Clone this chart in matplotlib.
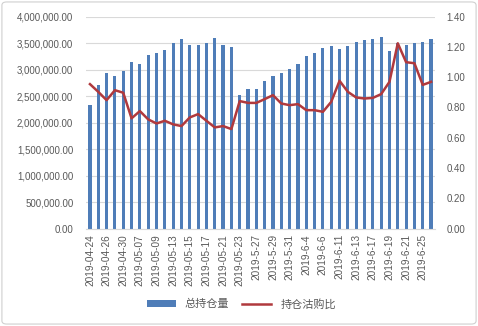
import matplotlib.pyplot as plt
import matplotlib.ticker as mticker
from matplotlib.patches import FancyBboxPatch
import numpy as np

plt.rcParams['font.family'] = ['Liberation Sans', 'Noto Sans CJK SC', 'DejaVu Sans']

# trading days shown on the category axis
dates = ['2019-04-24', '2019-04-25', '2019-04-26', '2019-04-29', '2019-04-30',
         '2019-05-06', '2019-05-07', '2019-05-08', '2019-05-09', '2019-05-10',
         '2019-05-13', '2019-05-14', '2019-05-15', '2019-05-16', '2019-05-17',
         '2019-05-20', '2019-05-21', '2019-05-22', '2019-05-23', '2019-05-24',
         '2019-5-27', '2019-5-28', '2019-5-29', '2019-5-30', '2019-5-31',
         '2019-6-3', '2019-6-4', '2019-6-5', '2019-6-6', '2019-6-10',
         '2019-6-11', '2019-6-12', '2019-6-13', '2019-6-14', '2019-6-17',
         '2019-6-18', '2019-6-19', '2019-6-20', '2019-6-21', '2019-6-24',
         '2019-6-25', '2019-6-26']

# 总持仓量 (left axis)
open_interest = [2331000, 2709000, 2941000, 2879000, 2973000, 3143000, 3099000,
                 3275000, 3307000, 3364000, 3502000, 3571000, 3464000, 3470000,
                 3496000, 3590000, 3470000, 3432000, 2520000, 2627000, 2627000,
                 2790000, 2884000, 2941000, 3011000, 3105000, 3256000, 3319000,
                 3407000, 3445000, 3382000, 3445000, 3515000, 3558000, 3571000,
                 3620000, 3350000, 3507000, 3464000, 3507000, 3515000, 3571000]

# 持仓沽购比 (right axis)
pc_ratio = [0.954, 0.903, 0.848, 0.914, 0.897, 0.728, 0.776, 0.721, 0.694, 0.712,
            0.688, 0.677, 0.734, 0.756, 0.712, 0.668, 0.677, 0.657, 0.842, 0.830,
            0.830, 0.855, 0.881, 0.826, 0.815, 0.822, 0.782, 0.782, 0.771, 0.837,
            0.976, 0.903, 0.866, 0.859, 0.863, 0.888, 0.969, 1.224, 1.099, 1.092,
            0.949, 0.969]

bar_color = '#4F7DB8'
line_color = '#B0393D'
text_color = '#595959'
grid_color = '#D9D9D9'

fig = plt.figure(figsize=(4.78, 3.26), dpi=100)
ax = fig.add_axes([0.1795, 0.299, 0.731, 0.650])
x = np.arange(len(dates))

bars = ax.bar(x, open_interest, width=0.38, color=bar_color, zorder=2, label='总持仓量')
ax.set_xlim(-0.5, len(dates) - 0.5)
ax.set_ylim(0, 4000000)
ax.yaxis.set_major_locator(mticker.MultipleLocator(500000))
ax.yaxis.set_major_formatter(mticker.StrMethodFormatter('{x:,.2f}'))
ax.grid(axis='y', color=grid_color, linewidth=0.8, zorder=0)
ax.set_xticks(x[::2])
ax.set_xticklabels(dates[::2], rotation=90)

ax2 = ax.twinx()
line, = ax2.plot(x, pc_ratio, color=line_color, linewidth=1.8, label='持仓沽购比')
ax2.set_ylim(0, 1.4)
ax2.yaxis.set_major_locator(mticker.MultipleLocator(0.2))
ax2.yaxis.set_major_formatter(mticker.StrMethodFormatter('{x:.2f}'))

for a in (ax, ax2):
    for s in a.spines.values():
        s.set_visible(False)
    a.tick_params(length=0, labelsize=7.0, colors=text_color)
ax.tick_params(axis='x', labelsize=7.2)
ax.spines['bottom'].set_visible(True)
ax.spines['bottom'].set_color(grid_color)
ax.tick_params(axis='y', pad=9)
ax2.tick_params(axis='y', pad=8)
ax.tick_params(axis='x', pad=4)

fig.legend([bars, line], ['总持仓量', '持仓沽购比'], loc='lower center',
           bbox_to_anchor=(0.505, 0.02), ncol=2, frameon=False, fontsize=8,
           handlelength=2.6, handleheight=0.6, columnspacing=1.2,
           labelcolor=text_color)

fig.patches.append(FancyBboxPatch((0.004, 0.006), 0.992, 0.988,
                                  boxstyle='round,pad=0,rounding_size=0.01',
                                  transform=fig.transFigure, fill=False,
                                  edgecolor='#D0D0D0', linewidth=0.8))

fig.savefig('out.png', dpi=100)
